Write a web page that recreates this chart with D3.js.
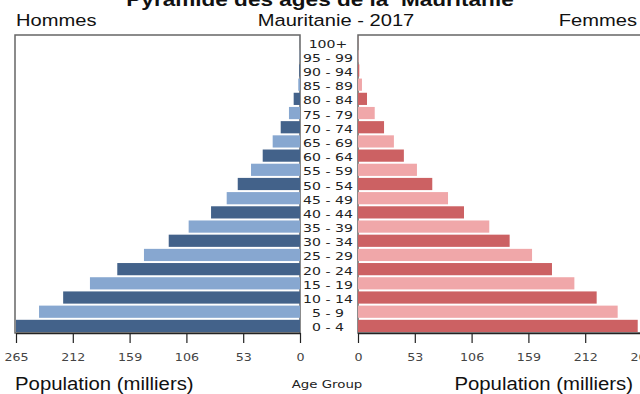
<!DOCTYPE html>
<html>
<head>
<meta charset="utf-8">
<script src="https://cdn.jsdelivr.net/npm/d3@7"></script>
<style>
  html, body { margin: 0; padding: 0; background: #fff; }
  svg { display: block; }
</style>
</head>
<body>
<svg id="chart" width="640" height="394"></svg>
<script>
const ageGroups = ["100+", "95 - 99", "90 - 94", "85 - 89", "80 - 84", "75 - 79", "70 - 74",
  "65 - 69", "60 - 64", "55 - 59", "50 - 54", "45 - 49", "40 - 44", "35 - 39", "30 - 34",
  "25 - 29", "20 - 24", "15 - 19", "10 - 14", "5 - 9", "0 - 4"];
const hommes = [0.1, 0.3, 0.7, 1.6, 5.9, 10.3, 18, 25.5, 34.8, 45.7, 58.1, 68.4, 83, 103.9,
  122.5, 145.6, 170.5, 196, 221, 243.5, 265];
const femmes = [0.1, 0.5, 1.2, 3.7, 8.4, 15.6, 24.3, 33.5, 42.8, 55, 69.3, 84, 98.9, 122.5,
  141.5, 162.4, 181, 201.9, 222.7, 242.3, 261];
const tickValues = [0, 53, 106, 159, 212, 265];

const title = "Pyramide des âges de la  Mauritanie";
const subtitle = "Mauritanie - 2017";

const svg = d3.select("#chart");
const plotTop = 35, plotBottom = 333;
const leftX0 = 15, leftX1 = 300;
const rightX0 = 358, rightX1 = 643;

const y = d3.scaleBand().domain(ageGroups).range([plotTop, plotBottom]).paddingInner(0.14).paddingOuter(0.07);
const xL = d3.scaleLinear().domain([265, 0]).range([leftX0 + 1, leftX1]);
const xR = d3.scaleLinear().domain([0, 265]).range([rightX0, rightX1 - 1]);

const menColors = ["#87a7d0", "#43628a"];
const womenColors = ["#f0a7a9", "#cc6163"];
const colorIdx = i => (ageGroups.length - 1 - i) % 2 === 0 ? 1 : 0;

const fontMain = "Liberation Sans, Arial, sans-serif";
const fontDV = "DejaVu Sans, sans-serif";

function addText(x, yy, str, opts) {
  const t = svg.append("text")
    .attr("transform", `translate(${x},${yy}) scale(${opts.sx || 1},1)`)
    .attr("text-anchor", opts.anchor || "start")
    .attr("font-family", opts.family || fontMain)
    .attr("font-size", opts.size)
    .attr("font-weight", opts.weight || "normal")
    .attr("fill", opts.fill || "#111")
    .style("white-space", "pre")
    .text(str);
  return t;
}

// frames
svg.append("rect").attr("x", leftX0).attr("y", plotTop).attr("width", leftX1 - leftX0).attr("height", plotBottom - plotTop)
  .attr("fill", "none").attr("stroke", "#666").attr("stroke-width", 1.5);
svg.append("rect").attr("x", rightX0).attr("y", plotTop).attr("width", rightX1 - rightX0 + 5).attr("height", plotBottom - plotTop)
  .attr("fill", "none").attr("stroke", "#666").attr("stroke-width", 1.5);

// bars
svg.append("g").selectAll("rect").data(hommes).join("rect")
  .attr("x", d => xL(d))
  .attr("y", (d, i) => y(ageGroups[i]))
  .attr("width", d => xL(0) - xL(d))
  .attr("height", y.bandwidth())
  .attr("fill", (d, i) => menColors[colorIdx(i)]);

svg.append("g").selectAll("rect").data(femmes).join("rect")
  .attr("x", xR(0))
  .attr("y", (d, i) => y(ageGroups[i]))
  .attr("width", d => xR(d) - xR(0))
  .attr("height", y.bandwidth())
  .attr("fill", (d, i) => womenColors[colorIdx(i)]);

// age labels
svg.append("g").selectAll("text").data(ageGroups).join("text")
  .attr("transform", d => `translate(328,${y(d) + y.bandwidth() / 2}) scale(1.28,1)`)
  .attr("dy", "0.5em")
  .attr("text-anchor", "middle")
  .attr("font-family", fontDV)
  .attr("font-size", 11)
  .attr("fill", "#222")
  .text(d => d);

// axes
const axL = d3.axisBottom(xL).tickValues(tickValues).tickSize(10).tickSizeOuter(0);
const axR = d3.axisBottom(xR).tickValues(tickValues).tickSize(10).tickSizeOuter(0);
function styleAxis(g) {
  g.select(".domain").attr("stroke", "#222").attr("stroke-width", 1.5);
  g.selectAll(".tick line").attr("stroke", "#222").attr("stroke-width", 1.2);
  g.selectAll(".tick text").attr("font-family", fontDV).attr("font-size", 11)
    .attr("fill", "#444").attr("y", 0).attr("dy", 0)
    .attr("transform", "translate(0,28) scale(1.15,1)");
}
svg.append("g").attr("transform", `translate(0,${plotBottom})`).call(axL).call(styleAxis);
svg.append("g").attr("transform", `translate(0,${plotBottom})`).call(axR).call(styleAxis);

// texts
addText(320, 6, title, {anchor: "middle", size: 18.5, weight: "bold", sx: 1.22});
addText(16, 26, "Hommes", {size: 16.5, sx: 1.22});
addText(336, 26, subtitle, {anchor: "middle", size: 16.5, sx: 1.22});
addText(637, 26, "Femmes", {anchor: "end", size: 16.5, sx: 1.22});
addText(15, 390, "Population (milliers)", {size: 18.5, sx: 1.1});
addText(633, 390, "Population (milliers)", {anchor: "end", size: 18.5, sx: 1.1});
addText(327, 388, "Age Group", {anchor: "middle", family: fontDV, size: 10.5, sx: 1.27, fill: "#222"});
</script>
</body>
</html>
